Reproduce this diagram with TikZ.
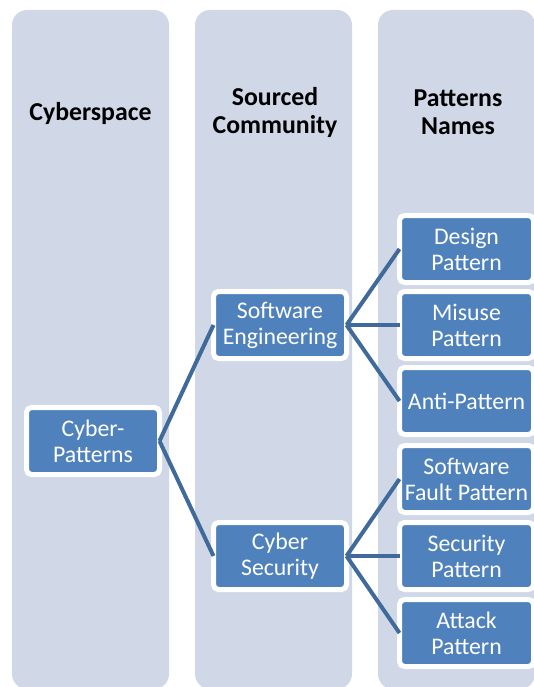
\documentclass[tikz,border=0pt]{standalone}
\usepackage{fontspec}
\setmainfont{Carlito}
\usetikzlibrary{positioning}

\definecolor{lanebg}{RGB}{208,216,232}
\definecolor{boxblue}{RGB}{79,129,189}
\definecolor{linkblue}{RGB}{64,106,154}

\begin{document}
\begin{tikzpicture}[
  x=1pt, y=1pt,
  lane/.style={fill=lanebg,rounded corners=15pt},
  head/.style={align=center,font=\fontsize{25.8}{28}\selectfont\bfseries},
  pbox/.style={fill=boxblue,draw=white,line width=5pt,rounded corners=5pt,text=white,
    align=center,inner sep=0pt,outer sep=0pt,minimum width=133pt,minimum height=67pt,
    font=\fontsize{23.8}{26}\selectfont},
  link/.style={draw=linkblue,line width=4pt}
]
\useasboundingbox (0,0) rectangle (534,-687);
\clip (0,0) rectangle (534,-687);
% background lanes
\path[lane] (12,-10) rectangle (169,-689);
\path[lane] (195,-10) rectangle (352,-689);
\path[lane] (378,-10) rectangle (535,-689);
\node[head] (hcyber) at (90.5,-113) {Cyberspace};
\node[head] (hcomm) at (275,-112) {Sourced\\Community};
\node[head] (hname) at (458,-112) {Patterns\\Names};
% boxes
\node[pbox] (cp) at (93,-441) {Cyber-\\Patterns};
\node[pbox] (se) at (280,-325) {Software\\Engineering};
\node[pbox] (cs) at (280,-556) {Cyber\\Security};
\node[pbox,minimum width=134pt,right=53pt of se] (mp) {Misuse\\Pattern};
\node[pbox,minimum width=134pt,above=9pt of mp] (dp) {Design\\Pattern};
\node[pbox,minimum width=134pt,below=9pt of mp] (ap) {Anti-Pattern};
\node[pbox,minimum width=134pt,right=53pt of cs] (sp) {Security\\Pattern};
\node[pbox,minimum width=134pt,above=10pt of sp] (fp) {Software\\Fault Pattern};
\node[pbox,minimum width=134pt,below=10pt of sp] (ak) {Attack\\Pattern};
% connectors
\draw[link] (cp.east) -- (se.west);
\draw[link] (cp.east) -- (cs.west);
\draw[link] (se.east) -- (dp.west);
\draw[link] (se.east) -- (mp.west);
\draw[link] (se.east) -- (ap.west);
\draw[link] (cs.east) -- (fp.west);
\draw[link] (cs.east) -- (sp.west);
\draw[link] (cs.east) -- (ak.west);
\end{tikzpicture}
\end{document}
